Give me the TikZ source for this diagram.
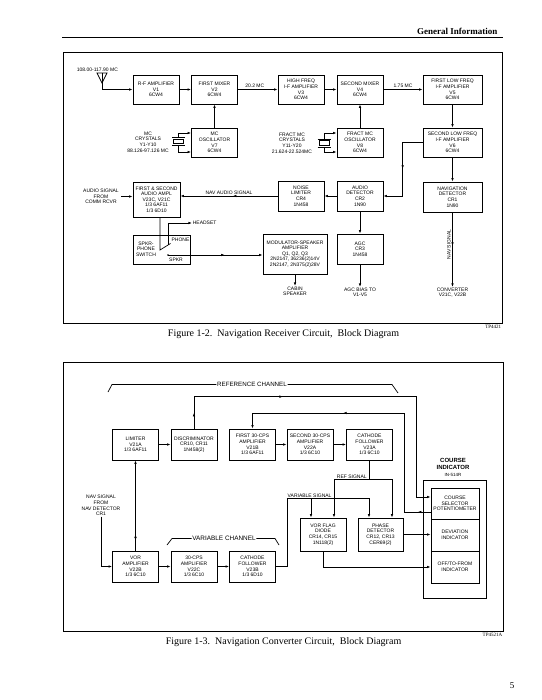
\documentclass[tikz,border=0pt]{standalone}
\usepackage{fontspec}
\setmainfont{Liberation Serif}
\setsansfont{Liberation Sans}
\usetikzlibrary{arrows.meta, calc, decorations.markings}

\newcommand{\lett}{\fontsize{5}{5.6}\selectfont\sffamily}

\begin{document}
\begin{tikzpicture}[
    x=1pt, y=-1pt,
    >={Latex[length=3.6pt,width=2.6pt]},
    line width=0.7pt,
    blk/.style={draw, line width=0.7pt, minimum width=46pt, minimum height=29pt,
      inner sep=0.5pt, align=center, font=\lett},
    wideblk/.style={blk, minimum width=59pt},
    lbl/.style={align=center, font=\lett, inner sep=0.5pt},
    midarr/.style={postaction={decorate, decoration={markings,
      mark=at position #1 with {\arrow{Latex[length=3.6pt,width=2.6pt]}}}}},
    panel/.style={line width=1pt},
  ]
  \useasboundingbox (0,0) rectangle (541,700);

  % Page head
  \node[anchor=base east, font=\bfseries\fontsize{9}{10}\selectfont] (head) at (501,35) {General Information};
  \draw[line width=1pt] (62,37.5) -- (503,37.5);

  % ---------------- Figure 1-2 ----------------
  \draw[panel] (63,53) rectangle (502,323);
  \node[anchor=north east, font=\fontsize{5}{5}\selectfont, inner sep=0.5pt] (tpa) at (502,324.5) {TP4421};
  \node[font=\fontsize{10}{11}\selectfont] (capa) at (283.5,334) {Figure 1-2.\ \ Navigation Receiver Circuit,\ \ Block Diagram};

  % Receiver blocks
  \node[blk] (rfamp) at (156,89.5) {R-F AMPLIFIER\\V1\\6CW4};
  \node[blk] (mixA) at (214.5,89.5) {FIRST MIXER\\V2\\6CW4};
  \node[blk] (hfif) at (301,89.5) {HIGH FREQ\\I-F AMPLIFIER\\V3\\6CW4};
  \node[blk] (mixB) at (360,89.5) {SECOND MIXER\\V4\\6CW4};
  \node[wideblk] (lfifA) at (452.5,89.5) {FIRST LOW FREQ\\I-F AMPLIFIER\\V5\\6CW4};
  \node[blk] (oscA) at (214.5,142.5) {MC\\OSCILLATOR\\V7\\6CW4};
  \node[blk] (oscB) at (360,142.5) {FRACT MC\\OSCILLATOR\\V8\\6CW4};
  \node[wideblk] (lfifB) at (452.5,142.5) {SECOND LOW FREQ\\I-F AMPLIFIER\\V6\\6CW4};
  \node[blk, minimum width=47pt, minimum height=35pt] (audamp) at (156.5,199.5) {FIRST \& SECOND\\AUDIO AMPL\\V23C, V21C\\1/3 6AF11\\1/3 6D10};
  \node[blk, minimum height=30pt] (noise) at (301,196) {NOISE\\LIMITER\\CR4\\1N458};
  \node[blk, minimum height=30pt] (auddet) at (360,196) {AUDIO\\DETECTOR\\CR2\\1N90};
  \node[wideblk, minimum height=30pt] (navdet) at (452.5,197) {NAVIGATION\\DETECTOR\\CR1\\1N90};
  \node[blk, minimum width=57pt] (sw) at (161.5,249.5) {};
  \node[blk, minimum width=64pt, minimum height=40pt] (modamp) at (295,254) {MODULATOR-SPEAKER\\AMPLIFIER\\Q1, Q2, Q3\\2N2147, 36236(2)14V\\2N2147, 2N375(2)28V};
  \node[blk, minimum height=30pt] (agc) at (360,249) {AGC\\CR3\\1N458};

  % Labels
  \node[lbl, anchor=south west] (band) at (76,72) {108.00-117.90 MC};
  \node[lbl] (xtlA) at (148,142) {MC\\CRYSTALS\\Y1-Y10\\88.126-97.126 MC};
  \node[lbl] (xtlB) at (292,143) {FRACT MC\\CRYSTALS\\Y11-Y20\\21.624-22.524MC};
  \node[lbl] (comm) at (101,196.5) {AUDIO SIGNAL\\FROM\\COMM RCVR};
  \node[lbl] (swname) at (146,249) {SPKR-\\PHONE\\SWITCH};
  \node[lbl] (phone) at (180.5,239.5) {PHONE};
  \node[lbl] (spkr) at (176,259.5) {SPKR};
  \node[lbl, anchor=west] (headset) at (192,223) {HEADSET};
  \node[lbl, anchor=north] (cabin) at (295,286) {CABIN\\SPEAKER};
  \node[lbl, anchor=north] (bias) at (360,287) {AGC BIAS TO\\V1-V5};
  \node[lbl, anchor=north] (conv) at (452.5,287) {CONVERTER\\V21C, V22B};
  \node[lbl, rotate=90] (navsig) at (449,244.5) {NAV SIGNAL};

  % Antenna
  \coordinate (ant) at (102,73);
  \draw (97,73) -- (107,73) -- (102,83) -- cycle;
  \draw[->] (ant) |- (rfamp.west);

  % Crystals
  \node[draw, minimum width=10pt, minimum height=4.5pt, inner sep=0pt] (qA) at (178.5,141.5) {};
  \node[draw, minimum width=10pt, minimum height=4.5pt, inner sep=0pt] (qB) at (324,143) {};
  \foreach \q in {qA,qB} {
    \draw ([shift={(-6.5pt,1.3pt)}]\q.north) -- ([shift={(6.5pt,1.3pt)}]\q.north);
    \draw ([shift={(-6.5pt,-1.3pt)}]\q.south) -- ([shift={(6.5pt,-1.3pt)}]\q.south);
  }
  \draw[->] ([yshift=1.3pt]qA.north) |- ([yshift=9.5pt]oscA.west);
  \draw[->] ([yshift=-1.3pt]qA.south) |- ([yshift=-9.5pt]oscA.west);
  \draw[->] ([yshift=1.3pt]qB.north) |- ([yshift=9.5pt]oscB.west);
  \draw[->] ([yshift=-1.3pt]qB.south) |- ([yshift=-9.5pt]oscB.west);

  % Signal path
  \draw[->] (rfamp) -- (mixA);
  \draw[->] (mixA) -- node[lbl, above=1pt, xshift=-3pt] {20.2 MC} (hfif);
  \draw[->] (hfif) -- (mixB);
  \draw[->] (mixB) -- node[lbl, above=1pt] {1.75 MC} (lfifA);
  \draw[->] (lfifA) -- (lfifB);
  \draw[->] (oscA) -- (mixA);
  \draw[->] (oscB) -- (mixB);
  \draw[->, midarr=0.5] (lfifB.west) -- ++(-20,0) |- (auddet.east);
  \draw[->] (auddet) -- (noise);
  \draw[->, midarr=0.46] (noise) -- node[lbl, above=1pt] {NAV AUDIO SIGNAL} (audamp.east |- noise.west);
  \draw[->] ([xshift=20pt]comm.center) -- (audamp.west |- comm.center);
  \draw[->] (auddet) -- (agc);
  \draw[->] (agc) -- (bias);
  \draw[->] (lfifB) -- (navdet);
  \draw[->, midarr=0.45] (navdet) -- (conv);
  \draw[->] (modamp) -- (cabin);

  % Speaker-phone switch
  \coordinate (pivot) at (160,250);
  \coordinate (phc) at (168,245);
  \coordinate (spc) at (168,255);
  \draw (audamp.south -| pivot) -- (pivot) -- (170.5,243.5);
  \draw[->] (phc) |- (headset.west);
  \fill (spc) circle[radius=0.9pt];
  \draw[->, midarr=0.6] (spc) -- (modamp.west |- spc);

  % ---------------- Figure 1-3 ----------------
  \draw[panel] (63,362) rectangle (503,631);
  \node[anchor=north east, font=\fontsize{5}{5}\selectfont, inner sep=0.5pt] (tpb) at (503,632.5) {TP4521A};
  \node[font=\fontsize{10}{11}\selectfont] (capb) at (283.5,642) {Figure 1-3.\ \ Navigation Converter Circuit,\ \ Block Diagram};

  % Reference channel
  \node[blk, minimum height=31pt] (lim) at (135.5,444.5) {LIMITER\\V21A\\1/3 6AF11};
  \node[blk, minimum height=31pt] (disc) at (194,444.5) {DISCRIMINATOR\\CR10, CR11\\1N458(2)};
  \node[blk, minimum height=31pt] (cpsA) at (252.5,444.5) {FIRST 30-CPS\\AMPLIFIER\\V21B\\1/3 6AF11};
  \node[blk, minimum height=31pt] (cpsB) at (310,444.5) {SECOND 30-CPS\\AMPLIFIER\\V22A\\1/3 6C10};
  \node[blk, minimum height=31pt] (cfA) at (369.5,444.5) {CATHODE\\FOLLOWER\\V23A\\1/3 6C10};

  % Variable channel
  \node[blk, minimum height=31pt] (vor) at (135.5,566.5) {VOR\\AMPLIFIER\\V22B\\1/3 6C10};
  \node[blk, minimum height=31pt] (cpsC) at (194,566.5) {30-CPS\\AMPLIFIER\\V22C\\1/3 6C10};
  \node[blk, minimum height=31pt] (cfB) at (252.5,566.5) {CATHODE\\FOLLOWER\\V23B\\1/3 6D10};
  \node[blk, minimum height=33pt] (flag) at (323,534.5) {VOR FLAG\\DIODE\\CR14, CR15\\1N118(2)};
  \node[blk, minimum width=45pt, minimum height=33pt] (phase) at (380.5,534.5) {PHASE\\DETECTOR\\CR12, CR13\\CER69(2)};

  % Course indicator
  \node[draw, minimum width=63pt, minimum height=118pt, line width=0.7pt] (ind) at (454.5,539) {};
  \node[blk, minimum width=48pt, minimum height=31pt] (sel) at (455,503.5) {COURSE\\SELECTOR\\POTENTIOMETER};
  \node[blk, minimum width=48pt, minimum height=32pt] (dev) at (455,535) {DEVIATION\\INDICATOR};
  \node[blk, minimum width=48pt, minimum height=32pt] (tofrom) at (455,567) {OFF/TO-FROM\\INDICATOR};
  \node[align=center, inner sep=0pt, font=\fontsize{6}{6.6}\selectfont\sffamily\bfseries] (indname) at (453,467.5) {COURSE\\INDICATOR\\{\fontsize{4.5}{5}\selectfont\mdseries IN-514R}};

  % Channel brackets
  \node[lbl, font=\fontsize{6.2}{7}\selectfont\sffamily] (refch) at (252,384.5) {REFERENCE CHANNEL};
  \draw (108,392) -- (112,384.5) -- (refch.west);
  \draw (refch.east) -- (392,384.5) -- (398,393);
  \node[lbl, font=\fontsize{6.4}{7}\selectfont\sffamily] (varch) at (224,538.5) {VARIABLE CHANNEL};
  \draw (167,545) -- (172,538.5) -- (varch.west);
  \draw (varch.east) -- (275,538.5) -- (279,545);

  % Input
  \node[lbl] (navin) at (101,505.5) {NAV SIGNAL\\FROM\\NAV DETECTOR\\CR1};
  \draw[->] (navin) |- (vor.west);

  % Connections
  \draw[->, midarr=0.18] (vor) -- (lim);
  \draw[->] (lim) -- (disc);
  \draw[->, midarr=0.043, midarr=0.328] (disc.north) -- ++(0,-32) -- ++(222,0) |- ([yshift=6.5pt]sel.west);
  \draw[->, midarr=0.044, midarr=0.637] ([yshift=-8.5pt]sel.west) -- ++(-26,0) -- ++(0,-99) -| (cpsA.north);
  \draw[->] (cpsA) -- (cpsB);
  \draw[->] (cpsB) -- (cfA);
  \draw[->] (vor) -- (cpsC);
  \draw[->] (cpsC) -- (cfB);

  % Ref signal
  \coordinate (refbus) at ($(cfA.south)+(0,19)$);
  \draw (cfA.south) -- (refbus) node[lbl, anchor=south east, xshift=-2pt] {REF SIGNAL};
  \draw[->] (refbus) -| ([xshift=11pt]flag.north);
  \draw[->] (refbus) -| ([xshift=11.5pt]phase.north);

  % Variable signal
  \coordinate (varbus) at ($(cfB.east)+(11,0)$);
  \draw (cfB.east) -- (varbus) -- ++(0,-68.5) coordinate (vartop) node[lbl, anchor=south west] {VARIABLE SIGNAL};
  \draw[->] (vartop) -| ([xshift=-12pt]flag.north);
  \draw[->] (vartop) -| ([xshift=-11.5pt]phase.north);

  % Outputs to indicator
  \draw[->] (phase) -- (dev.west |- phase.east);
  \draw[->] (flag) |- (tofrom.west);

  % Page number
  \node[font=\fontsize{9}{10}\selectfont] (pnum) at (512,686) {5};
\end{tikzpicture}
\end{document}
